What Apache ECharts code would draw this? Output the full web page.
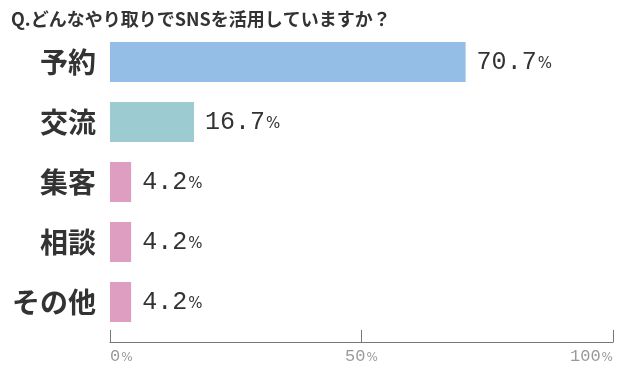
<!DOCTYPE html>
<html><head><meta charset="utf-8">
<script src="https://cdn.jsdelivr.net/npm/echarts@6/dist/echarts.min.js"></script>
<style>html,body{margin:0;padding:0;background:#fff}#c{width:640px;height:368px}</style>
</head><body><div id="c"></div>
<script>
const titleText = 'Q.どんなやり取りでSNSを活用していますか？';
const categories = ['予約', '交流', '集客', '相談', 'その他'];
const values = [70.7, 16.7, 4.2, 4.2, 4.2];
const barColors = ['#94BEE6', '#9CCBD2', '#DE9EC1', '#DE9EC1', '#DE9EC1'];
const tickValues = [0, 50, 100];

const chart = echarts.init(document.getElementById('c'), null, {renderer: 'canvas'});
chart.setOption({
  animation: false,
  backgroundColor: '#fff',
  title: {
    text: titleText, left: 6, top: 5,
    textStyle: {fontFamily: 'Noto Sans CJK JP', fontWeight: 'bold', fontSize: 18, color: '#333'}
  },
  grid: {left: 110, right: 27, top: 32, bottom: 36, containLabel: false},
  xAxis: {
    type: 'value', min: tickValues[0], max: tickValues[tickValues.length - 1], interval: 50,
    position: 'bottom', offset: 10,
    axisLine: {show: true, lineStyle: {color: '#777', width: 1}},
    axisTick: {show: true, inside: true, length: 12, lineStyle: {color: '#777'}},
    splitLine: {show: false},
    axisLabel: {
      margin: 6, alignMinLabel: 'left', alignMaxLabel: 'right',
      formatter: v => '{n|' + v + '}{p|%}',
      rich: {
        n: {fontFamily: 'Liberation Mono', fontSize: 17, color: '#999'},
        p: {fontFamily: 'DejaVu Sans', fontSize: 12, color: '#999', padding: [2, 0, 0, 1]}
      }
    }
  },
  yAxis: {
    type: 'category', data: categories, inverse: true,
    axisLine: {show: false}, axisTick: {show: false},
    axisLabel: {
      margin: 14, color: '#333', fontSize: 28, fontWeight: 'bold',
      fontFamily: 'Noto Sans CJK JP'
    }
  },
  series: [{
    type: 'bar', barWidth: 40,
    data: values.map((v, i) => ({value: v, itemStyle: {color: barColors[i]}})),
    label: {
      show: true, position: 'right', distance: 11,
      formatter: p => '{n|' + p.value.toFixed(1) + '}{p|%}',
      rich: {
        n: {fontFamily: 'Liberation Mono', fontSize: 25, color: '#333'},
        p: {fontFamily: 'DejaVu Sans', fontSize: 15, color: '#333', padding: [5, 0, 0, 1]}
      }
    }
  }]
});
</script></body></html>
